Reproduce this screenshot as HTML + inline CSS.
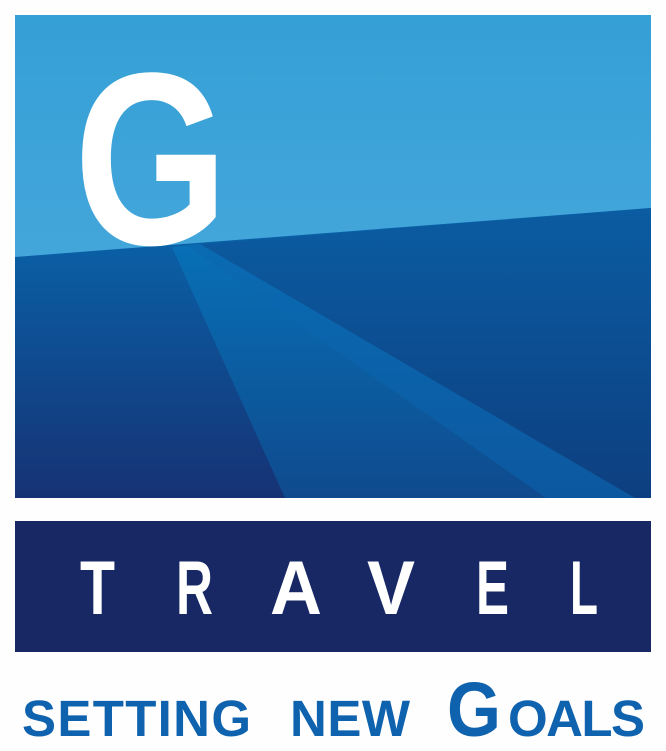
<!DOCTYPE html>
<html><head><meta charset="utf-8">
<style>
html,body{margin:0;padding:0;background:#fefefe;}
svg{display:block;}
</style></head>
<body>
<svg width="666" height="751" viewBox="0 0 666 751" xmlns="http://www.w3.org/2000/svg">
<defs>
<linearGradient id="sky" x1="0" y1="0" x2="0" y2="1">
<stop offset="0" stop-color="#35a0d6"/><stop offset="1" stop-color="#52ace0"/>
</linearGradient>
<linearGradient id="ground" x1="0" y1="0" x2="0" y2="1">
<stop offset="0" stop-color="#0866ad"/><stop offset="1" stop-color="#163274"/>
</linearGradient>
<linearGradient id="groundR" x1="0" y1="0" x2="0" y2="1">
<stop offset="0" stop-color="#0b5ca2"/><stop offset="1" stop-color="#0d3f80"/>
</linearGradient>
<linearGradient id="beam" x1="0" y1="0" x2="0" y2="1">
<stop offset="0" stop-color="#0870b6"/><stop offset="1" stop-color="#0f4a8d"/>
</linearGradient>
<linearGradient id="stripe" x1="0" y1="0" x2="0" y2="1">
<stop offset="0" stop-color="#0a6bb2"/><stop offset="1" stop-color="#0c58a0"/>
</linearGradient>
</defs>
<g>
<rect x="15" y="15" width="636" height="483" fill="url(#sky)"/>
<polygon points="15,257 651,208 651,498 15,498" fill="url(#ground)"/>
<polygon points="190,245 651,208 651,498 546,498" fill="url(#groundR)"/>
<polygon points="172,247 194,245 546,498 285,498" fill="url(#beam)"/>
<polygon points="186,245 200,244 635,498 546,498" fill="url(#stripe)"/>
<text x="74" y="244" font-family="Liberation Sans, sans-serif" font-weight="bold" font-size="246" fill="#fff" textLength="154" lengthAdjust="spacingAndGlyphs">G</text>
</g>
<rect x="15" y="521" width="636" height="131" fill="#172865"/>
<g font-family="Liberation Sans, sans-serif" font-weight="bold" font-size="76" fill="#fff">
<text x="80" y="614" textLength="35" lengthAdjust="spacingAndGlyphs">T</text>
<text x="176" y="614" textLength="37" lengthAdjust="spacingAndGlyphs">R</text>
<text x="270" y="614" textLength="52" lengthAdjust="spacingAndGlyphs">A</text>
<text x="367" y="614" textLength="48" lengthAdjust="spacingAndGlyphs">V</text>
<text x="476" y="614" textLength="33" lengthAdjust="spacingAndGlyphs">E</text>
<text x="570" y="614" textLength="28" lengthAdjust="spacingAndGlyphs">L</text>
</g>
<g font-family="Liberation Sans, sans-serif" font-weight="bold" fill="#0e62ae">
<text x="22" y="736" font-size="51" textLength="229" lengthAdjust="spacing">SETTING</text>
<text x="290" y="736" font-size="51" textLength="120" lengthAdjust="spacing">NEW</text>
<text x="447" y="736" font-size="77" textLength="54" lengthAdjust="spacingAndGlyphs">G</text>
<text x="508" y="736" font-size="51" textLength="137" lengthAdjust="spacing">OALS</text>
</g>
</svg>
</body></html>
